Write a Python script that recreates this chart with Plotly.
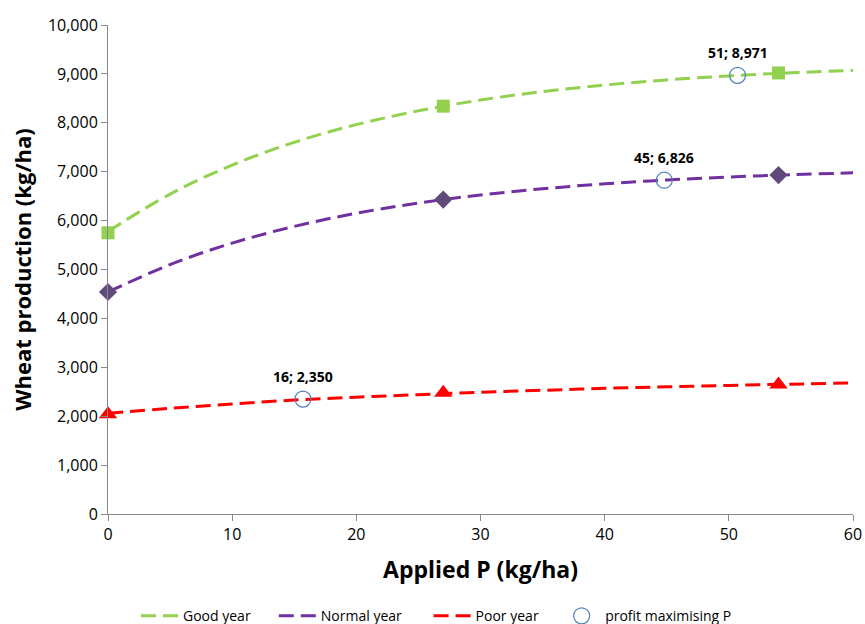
import plotly.graph_objects as go

# Observed data points
obs_x = [0, 27, 54]
good_obs = [5750, 8340, 9020]
normal_obs = [4540, 6430, 6930]
poor_obs = [2040, 2480, 2650]

# Trend lines
curve_x = [0, 5, 10, 15, 20, 25, 30, 35, 40, 45, 50, 55, 60]
good_curve = [5780, 6542, 7136, 7601, 7963, 8245, 8466, 8638, 8772, 8877, 8959, 9022, 9072]
normal_curve = [4540, 5101, 5539, 5882, 6150, 6360, 6523, 6651, 6752, 6830, 6891, 6939, 6976]
poor_curve = [2060, 2160, 2250, 2330, 2390, 2440, 2490, 2530, 2570, 2600, 2630, 2655, 2680]

# Profit maximising P
pm_x = [50.7, 44.8, 15.7]
pm_y = [8971, 6826, 2350]
pm_labels = ["51; 8,971", "45; 6,826", "16; 2,350"]

series_names = ["Good year", "Normal year", "Poor year", "profit maximising P"]

GREEN = "#92D050"
PURPLE = "#7030A0"
DIAMOND = "#604A7B"
RED = "#FF0000"
BLUE = "#4F81BD"
FONT = "Open Sans"
DASH = "15px,7px"
NB = "\u00a0"

fig = go.Figure()

fig.add_trace(go.Scatter(x=curve_x, y=good_curve, mode="lines", name=series_names[0] + NB * 5,
                         line=dict(color=GREEN, width=3, dash=DASH, shape="spline"), cliponaxis=False))
fig.add_trace(go.Scatter(x=curve_x, y=normal_curve, mode="lines", name=series_names[1] + NB * 6,
                         line=dict(color=PURPLE, width=3, dash=DASH, shape="spline"), cliponaxis=False))
fig.add_trace(go.Scatter(x=curve_x, y=poor_curve, mode="lines", name=series_names[2] + NB * 4,
                         line=dict(color=RED, width=3, dash=DASH, shape="spline"), cliponaxis=False))

fig.add_trace(go.Scatter(x=obs_x, y=good_obs, mode="markers", showlegend=False,
                         marker=dict(symbol="square", size=13, color=GREEN), cliponaxis=False))
fig.add_trace(go.Scatter(x=obs_x, y=normal_obs, mode="markers", showlegend=False,
                         marker=dict(symbol="diamond", size=14, color=DIAMOND), cliponaxis=False))
fig.add_trace(go.Scatter(x=obs_x, y=poor_obs, mode="markers", showlegend=False,
                         marker=dict(symbol="triangle-up", size=16, color=RED), cliponaxis=False))

fig.add_trace(go.Scatter(x=pm_x, y=pm_y, mode="markers", name=series_names[3],
                         marker=dict(symbol="circle-open", size=16, color=BLUE, line=dict(width=1.2)),
                         cliponaxis=False))

for x, y, t in zip(pm_x, pm_y, pm_labels):
    fig.add_annotation(x=x, y=y, text="<b>" + t + "</b>", showarrow=False, yshift=23,
                       font=dict(family=FONT, size=14, color="#000000"))

fig.update_layout(
    width=865, height=624,
    paper_bgcolor="white", plot_bgcolor="white",
    margin=dict(l=108, r=12, t=25, b=110, autoexpand=False),
    font=dict(family=FONT, size=16, color="#000000"),
    legend=dict(orientation="h", x=0.0376, xanchor="left", y=-0.209, yanchor="middle",
                font=dict(size=14), itemwidth=37),
    xaxis=dict(range=[0, 60], dtick=10, showgrid=False, zeroline=False, automargin=False,
               showline=True, linecolor="#898989", linewidth=1,
               ticks="outside", ticklen=6, tickcolor="#898989",
               title=dict(text="<b>Applied P (kg/ha)</b>", font=dict(size=23), standoff=17)),
    yaxis=dict(range=[0, 10000], dtick=1000, showgrid=False, zeroline=False, automargin=False,
               showline=True, linecolor="#898989", linewidth=1,
               ticks="outside", ticklen=6, tickcolor="#898989", tickformat=",d",
               title=dict(text="<b>Wheat production (kg/ha)</b>", font=dict(size=22), standoff=10)),
)

fig.write_html("out.html", config={"displayModeBar": False},
               post_script="document.body.style.margin='0';")
